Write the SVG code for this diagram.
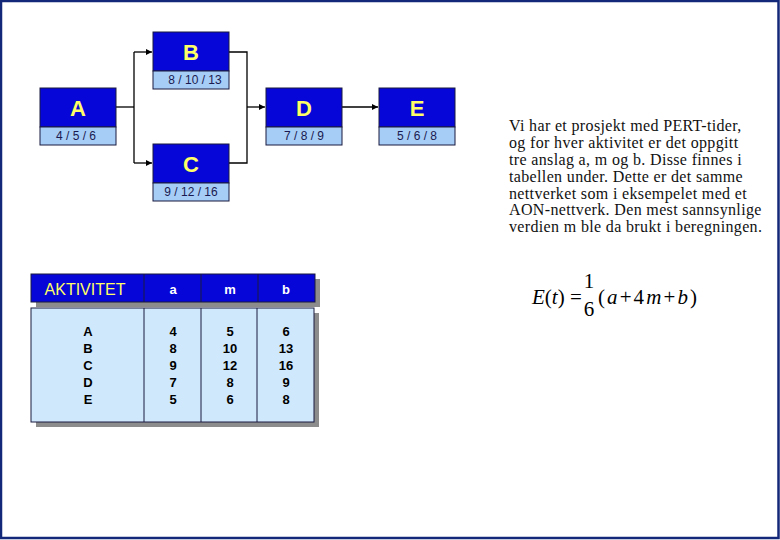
<svg xmlns="http://www.w3.org/2000/svg" width="780" height="540" viewBox="0 0 780 540">
<defs>
<style>
.blk{fill:#0606d8;stroke:#1a1a40;stroke-width:1}
.lbl{fill:#a6cdf6;stroke:#1a1a40;stroke-width:1}
.ttl{font-family:"Liberation Sans",Arial,sans-serif;font-size:22px;fill:#ffff66;text-anchor:middle;font-weight:bold}
.num{font-family:"Liberation Sans",Arial,sans-serif;font-size:12px;fill:#1a1a50;text-anchor:middle}
.con{fill:none;stroke:#000;stroke-width:1.3}
.tb{font-family:"Liberation Sans",Arial,sans-serif;font-size:13px;font-weight:bold;fill:#000;text-anchor:middle}
.th{font-family:"Liberation Sans",Arial,sans-serif;font-size:13px;font-weight:bold;fill:#fff;text-anchor:middle}
.para{font-family:"Liberation Serif","Times New Roman",serif;font-size:16px;letter-spacing:0.35px;fill:#111}
.fm{font-family:"Liberation Serif","Times New Roman",serif;font-size:21px;fill:#000}
</style>
<marker id="arr" markerWidth="8" markerHeight="8" refX="6" refY="3" orient="auto" markerUnits="userSpaceOnUse">
<path d="M0,0 L6,3 L0,6 z" fill="#000"/>
</marker>
</defs>
<rect x="0" y="0" width="780" height="540" fill="#fff"/>
<rect x="1" y="1" width="777.5" height="537" fill="none" stroke="#14287a" stroke-width="2.5"/>

<g id="connectors">
<polyline class="con" points="116,107 134,107"/>
<polyline class="con" points="134,52 134,163"/>
<polyline class="con" points="134,52 152,52" marker-end="url(#arr)"/>
<polyline class="con" points="134,163 152,163" marker-end="url(#arr)"/>
<polyline class="con" points="229,52 247,52 247,163 229,163"/>
<polyline class="con" points="247,107 265,107" marker-end="url(#arr)"/>
<polyline class="con" points="342,107 378,107" marker-end="url(#arr)"/>
</g>

<g id="node-A">
<rect class="blk" x="40" y="88" width="76" height="39"/>
<rect class="lbl" x="40" y="127" width="76" height="18"/>
<text class="ttl" x="78" y="116">A</text>
<text class="num" x="76" y="140">4 / 5 / 6</text>
</g>
<g id="node-B">
<rect class="blk" x="153" y="32" width="76" height="39"/>
<rect class="lbl" x="153" y="71" width="76" height="18"/>
<text class="ttl" x="191" y="60">B</text>
<text class="num" x="195" y="84">8 / 10 / 13</text>
</g>
<g id="node-C">
<rect class="blk" x="153" y="144" width="76" height="39"/>
<rect class="lbl" x="153" y="183" width="76" height="18"/>
<text class="ttl" x="191" y="172">C</text>
<text class="num" x="191" y="196">9 / 12 / 16</text>
</g>
<g id="node-D">
<rect class="blk" x="266" y="88" width="76" height="39"/>
<rect class="lbl" x="266" y="127" width="76" height="18"/>
<text class="ttl" x="304" y="116">D</text>
<text class="num" x="304" y="140">7 / 8 / 9</text>
</g>
<g id="node-E">
<rect class="blk" x="379" y="88" width="76" height="39"/>
<rect class="lbl" x="379" y="127" width="76" height="18"/>
<text class="ttl" x="417" y="116">E</text>
<text class="num" x="417" y="140">5 / 6 / 8</text>
</g>

<g id="table">
<rect x="36" y="279" width="284" height="28" fill="#8c8c8c"/>
<rect x="36" y="313" width="283" height="114" fill="#8c8c8c"/>
<rect x="31" y="274" width="284" height="28" fill="#0606d8" stroke="#1a1a40" stroke-width="1"/>
<line x1="144" y1="274" x2="144" y2="302" stroke="#1a1a40"/>
<line x1="201" y1="274" x2="201" y2="302" stroke="#1a1a40"/>
<line x1="258" y1="274" x2="258" y2="302" stroke="#1a1a40"/>
<text x="85" y="295" font-family="'Liberation Sans',Arial,sans-serif" font-size="16" fill="#ffff66" text-anchor="middle">AKTIVITET</text>
<text class="th" x="173" y="294">a</text>
<text class="th" x="230" y="294">m</text>
<text class="th" x="286" y="294">b</text>
<rect x="31" y="308" width="283" height="114" fill="#cfe8fb" stroke="#1a1a40" stroke-width="1"/>
<line x1="144" y1="308" x2="144" y2="422" stroke="#1a1a40"/>
<line x1="201" y1="308" x2="201" y2="422" stroke="#1a1a40"/>
<line x1="257" y1="308" x2="257" y2="422" stroke="#1a1a40"/>
<text class="tb" x="88" y="336">A</text><text class="tb" x="88" y="353">B</text><text class="tb" x="88" y="370">C</text><text class="tb" x="88" y="387">D</text><text class="tb" x="88" y="404">E</text>
<text class="tb" x="173" y="336">4</text><text class="tb" x="173" y="353">8</text><text class="tb" x="173" y="370">9</text><text class="tb" x="173" y="387">7</text><text class="tb" x="173" y="404">5</text>
<text class="tb" x="230" y="336">5</text><text class="tb" x="230" y="353">10</text><text class="tb" x="230" y="370">12</text><text class="tb" x="230" y="387">8</text><text class="tb" x="230" y="404">6</text>
<text class="tb" x="286" y="336">6</text><text class="tb" x="286" y="353">13</text><text class="tb" x="286" y="370">16</text><text class="tb" x="286" y="387">9</text><text class="tb" x="286" y="404">8</text>
</g>

<g id="formula">
<text class="fm" x="532" y="304"><tspan font-style="italic">E</tspan>(<tspan font-style="italic">t</tspan>) =</text>
<text class="fm" x="589" y="288" text-anchor="middle">1</text>
<text class="fm" x="589" y="316" text-anchor="middle">6</text>
<text class="fm" x="598" y="304" textLength="99" lengthAdjust="spacing">(<tspan font-style="italic">a</tspan>+4<tspan font-style="italic">m</tspan>+<tspan font-style="italic">b</tspan>)</text>
</g>

<g id="text">
<text class="para" x="509" y="131">Vi har et prosjekt med PERT-tider,</text>
<text class="para" x="509" y="148">og for hver aktivitet er det oppgitt</text>
<text class="para" x="509" y="165">tre anslag a, m og b. Disse finnes i</text>
<text class="para" x="509" y="182">tabellen under. Dette er det samme</text>
<text class="para" x="509" y="199">nettverket som i eksempelet med et</text>
<text class="para" x="509" y="215">AON-nettverk. Den mest sannsynlige</text>
<text class="para" x="509" y="232">verdien m ble da brukt i beregningen.</text>
</g>
</svg>
